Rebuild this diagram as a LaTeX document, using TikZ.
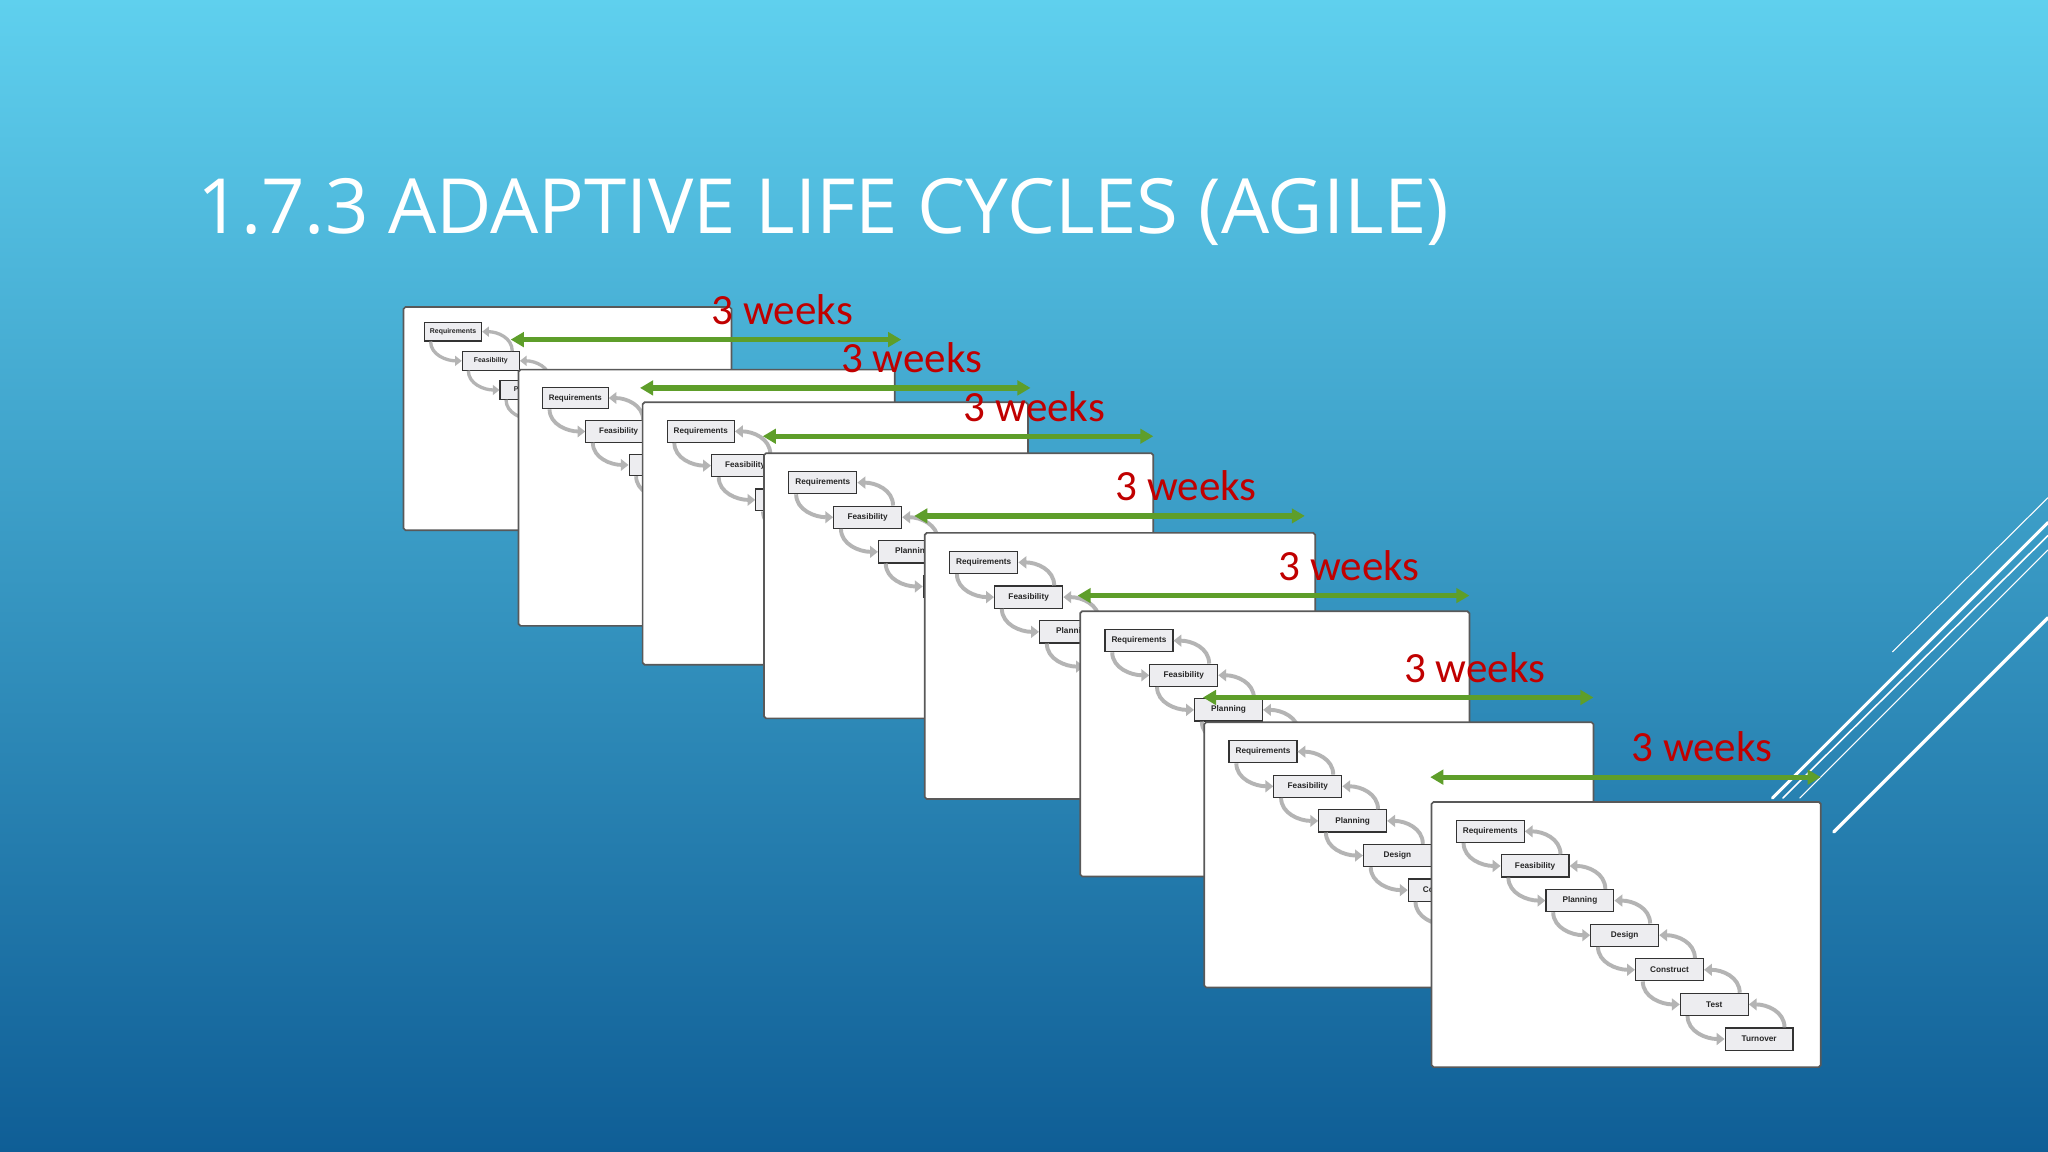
\documentclass[tikz,border=0pt]{standalone}
\usepackage{fontspec}
\setmainfont{Open Sans}
\newfontfamily\wkfont{Carlito}
\newfontfamily\bxfont{Liberation Sans}
\usetikzlibrary{arrows.meta,calc}
\definecolor{bgtop}{HTML}{5FD0EE}
\definecolor{bgmid}{HTML}{2E9ACB}
\definecolor{bgbot}{HTML}{0F5E96}
\definecolor{wkred}{HTML}{C00000}
\definecolor{wkgreen}{HTML}{5E9E2A}
\definecolor{flowgray}{HTML}{B4B4B4}
\definecolor{boxfill}{HTML}{EDEDF0}
\tikzset{
  cardsty/.style={draw=black!65,fill=white,line width=1.3pt,rounded corners=1.5pt},
  boxsty/.style={draw=black!80,fill=boxfill,line width=0.9pt,minimum width=52pt,minimum height=17pt,inner sep=0pt,font=\bxfont\bfseries\fontsize{6.3}{7}\selectfont,text=black!85},
  garrow/.style={wkgreen,line width=4pt,{Triangle[length=10pt,width=11pt]}-{Triangle[length=10pt,width=11pt]}},
  wklabel/.style={text=wkred,font=\wkfont\fontsize{33}{33}\selectfont,inner sep=0pt},
  deco/.style={white,line cap=round}
}
\newcommand\drawmycard[4]{%
  \pgfmathsetmacro\s{#4/298}
  \begin{scope}[shift={(#2,#3)},scale=\s,transform shape]
    \draw[cardsty] (0,0) rectangle (298,203);
    \foreach \k/\t in {0/Requirements,1/Feasibility,2/Planning,3/Design,4/Construct,5/Test,6/Turnover}
      \node[boxsty] (c#1-\k) at (45+34.3*\k,22.5+26.5*\k) {\t};
    \foreach \k [evaluate=\k as \n using int(\k+1)] in {0,...,5}{
      \draw[flowgray,line width={3pt*\s},-{Triangle[length=6pt,width=9pt,scale=\s]}]
        ($(c#1-\k.south west)+(6,0)$) .. controls +(0,12) and +(-14,0) .. (c#1-\n.west);
      \draw[flowgray,line width={3pt*\s},-{Triangle[length=6pt,width=9pt,scale=\s]}]
        ($(c#1-\n.north east)+(-7,0)$) .. controls +(0,-12) and +(14,0) .. (c#1-\k.east);
    }
  \end{scope}}
\newcommand\drawmyweeks[4]{%
  \coordinate (wl#1) at (#2,#4);
  \coordinate (wr#1) at (#3,#4);
  \draw[garrow] (wl#1) -- (wr#1);
  \node[wklabel] (wk#1) at (#2+208,#4-23) {3 weeks};}
\begin{document}
\begin{tikzpicture}[x=1pt,y=-1pt]
\useasboundingbox (0,0) rectangle (1568,882);
\shade[top color=bgtop,middle color=bgmid,bottom color=bgbot] (0,0) rectangle (1568,882);
\node[anchor=base west,text=white,inner sep=0pt] (title) at (151,179)
  {\resizebox{958pt}{!}{\fontsize{70}{70}\selectfont 1.7.3 ADAPTIVE LIFE CYCLES (AGILE)}};
% decorative lines
\coordinate (d1a) at (1449,499); \coordinate (d1b) at (1568,381);
\coordinate (d2a) at (1357,611); \coordinate (d2b) at (1568,400);
\coordinate (d3a) at (1365,611); \coordinate (d3b) at (1568,410);
\coordinate (d4a) at (1378,611); \coordinate (d4b) at (1568,421);
\coordinate (d5a) at (1404,637); \coordinate (d5b) at (1568,473);
\draw[deco,line width=0.8pt] (d1a) -- (d1b);
\draw[deco,line width=2.2pt] (d2a) -- (d2b);
\draw[deco,line width=1.2pt] (d3a) -- (d3b);
\draw[deco,line width=0.8pt] (d4a) -- (d4b);
\draw[deco,line width=2.6pt] (d5a) -- (d5b);
% cards and durations
\drawmycard{1}{309}{235}{251}
\drawmyweeks{1}{391}{690}{260}
\drawmycard{2}{397}{283}{288}
\drawmyweeks{2}{490}{789}{297}
\drawmycard{3}{492}{308}{295}
\drawmyweeks{3}{584}{883}{334}
\drawmycard{4}{585}{347}{298}
\drawmyweeks{4}{700}{999}{395}
\drawmycard{5}{708}{408}{299}
\drawmyweeks{5}{825}{1125}{456}
\drawmycard{6}{827}{468}{298}
\drawmyweeks{6}{921}{1220}{534}
\drawmycard{7}{922}{553}{298}
\drawmyweeks{7}{1095}{1394}{595}
\drawmycard{8}{1096}{614}{298}
\end{tikzpicture}
\end{document}
